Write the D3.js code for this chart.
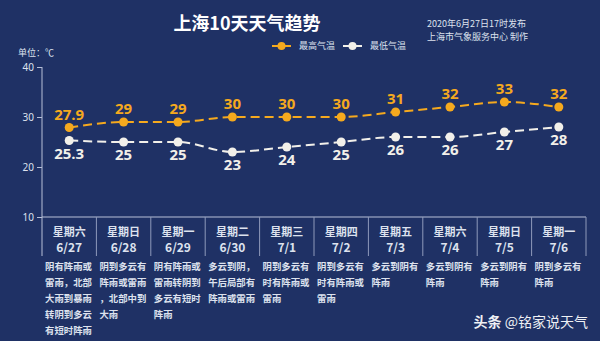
<!DOCTYPE html>
<html>
<head>
<meta charset="utf-8">
<script src="https://cdn.jsdelivr.net/npm/d3@7"></script>
<style>
  html, body { margin: 0; padding: 0; background: #1f3165; }
  svg { display: block; font-family: "Noto Sans CJK SC", "Noto Sans", sans-serif; }
</style>
</head>
<body>
<svg id="chart" width="600" height="341"></svg>
<script>
// data
const weekdays = ['星期六', '星期日', '星期一', '星期二', '星期三', '星期四', '星期五', '星期六', '星期日', '星期一'];
const dates = ['6/27', '6/28', '6/29', '6/30', '7/1', '7/2', '7/3', '7/4', '7/5', '7/6'];
const highTemps = [27.9, 29, 29, 30, 30, 30, 31, 32, 33, 32];
const lowTemps = [25.3, 25, 25, 23, 24, 25, 26, 26, 27, 28];
const descriptions = [
	'阴有阵雨或雷雨，北部大雨到暴雨转阴到多云有短时阵雨',
	'阴到多云有阵雨或雷雨，北部中到大雨',
	'阴有阵雨或雷雨转阴到多云有短时阵雨',
	'多云到阴，午后局部有阵雨或雷雨',
	'阴到多云有时有阵雨或雷雨',
	'阴到多云有时有阵雨或雷雨',
	'多云到阴有阵雨',
	'多云到阴有阵雨',
	'多云到阴有阵雨',
	'阴到多云有阵雨'
];
const yTicks = [10, 20, 30, 40];

const orange = '#f5a91e';
const white = '#f2f0ea';
const textColor = '#dde2ee';

let svg = d3.select('#chart');
let plotLeft = 42, plotRight = 586, plotTop = 67, plotBottom = 217, bandBottom = 256;

let xScale = d3.scaleBand()
	.domain(d3.range(dates.length))
	.range([plotLeft, plotRight]);
let yScale = d3.scaleLinear()
	.domain([10, 40])
	.range([plotBottom, plotTop]);

// title & header
svg.append('text')
	.attr('x', 247).attr('y', 30)
	.attr('text-anchor', 'middle')
	.style('font-size', '18px').style('font-weight', 'bold')
	.style('fill', '#ffffff')
	.text('上海10天天气趋势');
svg.append('text')
	.attr('x', 427).attr('y', 27)
	.style('font-size', '9px').style('fill', textColor)
	.text('2020年6月27日17时发布');
svg.append('text')
	.attr('x', 427).attr('y', 40)
	.style('font-size', '9px').style('fill', textColor)
	.text('上海市气象服务中心 制作');
svg.append('text')
	.attr('x', 18).attr('y', 56)
	.style('font-size', '9px').style('fill', textColor)
	.text('单位：℃');

// legend
let legendItems = [
	{ label: '最高气温', color: orange, x: 272 },
	{ label: '最低气温', color: white, x: 343 }
];
legendItems.forEach(function(item) {
	let g = svg.append('g').attr('transform', 'translate(' + item.x + ',46)');
	g.append('line').attr('x1', 0).attr('x2', 19)
		.style('stroke', item.color).style('stroke-width', 2);
	g.append('circle').attr('cx', 9.5).attr('r', 4).style('fill', item.color);
	g.append('text').attr('x', 27).attr('y', 3)
		.style('font-size', '9px').style('fill', textColor)
		.text(item.label);
});

// y axis
let yAxis = d3.axisLeft(yScale).tickValues(yTicks).tickSize(5).tickPadding(3);
let yAxisG = svg.append('g')
	.attr('transform', 'translate(' + plotLeft + ',0)')
	.call(yAxis);
yAxisG.select('.domain').remove();
yAxisG.selectAll('line').style('stroke', '#b8c0d8');
yAxisG.selectAll('text')
	.style('fill', textColor)
	.style('font-size', '10px')
	.style('font-family', '"Noto Sans", sans-serif');
svg.append('line')
	.attr('x1', plotLeft).attr('x2', plotLeft)
	.attr('y1', plotTop).attr('y2', bandBottom)
	.style('stroke', '#b8c0d8').style('stroke-width', 1);

// day band
svg.append('line')
	.attr('x1', plotLeft).attr('x2', plotRight)
	.attr('y1', plotBottom).attr('y2', plotBottom)
	.style('stroke', '#b8c0d8').style('stroke-width', 1);
svg.selectAll('.sep')
	.data(d3.range(1, dates.length + 1))
	.enter().append('line')
	.attr('x1', d => xScale.step() * d + plotLeft).attr('x2', d => xScale.step() * d + plotLeft)
	.attr('y1', plotBottom).attr('y2', bandBottom)
	.style('stroke', '#8f9abb').style('stroke-width', 1);

let dayG = svg.selectAll('.day')
	.data(dates)
	.enter().append('g')
	.attr('transform', (d, i) => 'translate(' + xScale(i) + ',0)');
dayG.append('text')
	.attr('x', xScale.bandwidth() / 2).attr('y', 236)
	.attr('text-anchor', 'middle')
	.style('font-size', '11px').style('font-weight', 'bold').style('fill', textColor)
	.text((d, i) => weekdays[i]);
dayG.append('text')
	.attr('x', xScale.bandwidth() / 2).attr('y', 252)
	.attr('text-anchor', 'middle')
	.style('font-size', '12px').style('font-weight', 'bold').style('fill', textColor)
	.text(d => d);

// descriptions, 5 characters per line
dayG.each(function(d, i) {
	let chars = Array.from(descriptions[i]);
	let lines = [];
	for (let k = 0; k < chars.length; k += 5)
		lines.push(chars.slice(k, k + 5).join(''));
	d3.select(this).selectAll('.desc')
		.data(lines)
		.enter().append('text')
		.attr('x', 3).attr('y', (l, j) => 270 + j * 16)
		.style('font-size', '9.4px').style('font-weight', 'bold').style('fill', textColor)
		.text(l => l);
});

// lines
let line = d3.line()
	.x((d, i) => xScale(i) + xScale.bandwidth() / 2)
	.y(d => yScale(d))
	.curve(d3.curveMonotoneX);

function drawSeries(values, color, labelOffset) {
	svg.append('path')
		.datum(values)
		.attr('d', line)
		.style('fill', 'none')
		.style('stroke', color)
		.style('stroke-width', 2)
		.style('stroke-dasharray', '9,5');
	svg.selectAll(null)
		.data(values)
		.enter().append('circle')
		.attr('cx', (d, i) => xScale(i) + xScale.bandwidth() / 2)
		.attr('cy', d => yScale(d))
		.attr('r', 4.5)
		.style('fill', color);
	svg.selectAll(null)
		.data(values)
		.enter().append('text')
		.attr('x', (d, i) => xScale(i) + xScale.bandwidth() / 2)
		.attr('y', d => yScale(d) + labelOffset)
		.attr('text-anchor', 'middle')
		.style('font-family', '"Open Sans", "Noto Sans", sans-serif')
		.style('font-size', '15px').style('font-weight', 'bold')
		.style('fill', color)
		.text(d => d);
}
drawSeries(highTemps, orange, -8);
drawSeries(lowTemps, white, 18);

// watermark
let wm = svg.append('text')
	.attr('x', 588).attr('y', 327)
	.attr('text-anchor', 'end')
	.style('font-size', '14px').style('fill', '#eef0f4');
wm.append('tspan').style('font-weight', 'bold').text('头条 ');
wm.append('tspan').text('@铭家说天气');
</script>
</body>
</html>
